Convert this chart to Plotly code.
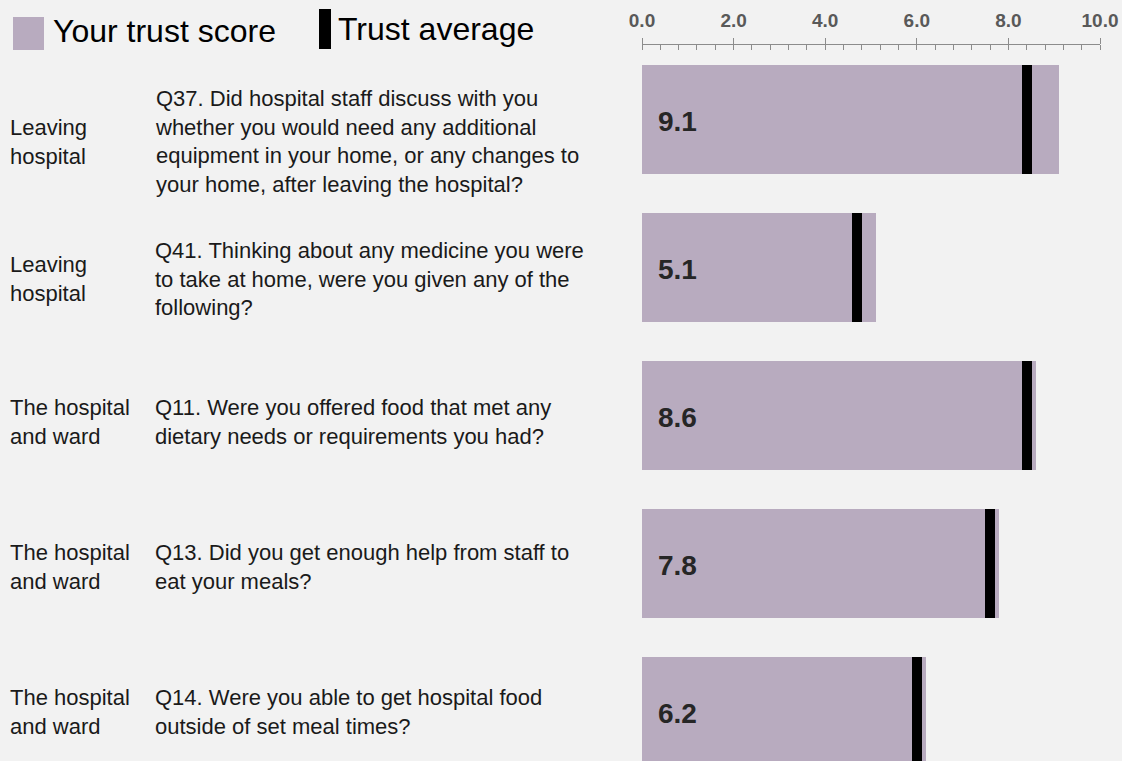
import plotly.graph_objects as go

# ---------------- data ----------------
categories = [
    "Leaving<br>hospital",
    "Leaving<br>hospital",
    "The hospital<br>and ward",
    "The hospital<br>and ward",
    "The hospital<br>and ward",
]
questions = [
    "Q37. Did hospital staff discuss with you<br>whether you would need any additional<br>"
    "equipment in your home, or any changes to<br>your home, after leaving the hospital?",
    "Q41. Thinking about any medicine you were<br>to take at home, were you given any of the<br>following?",
    "Q11. Were you offered food that met any<br>dietary needs or requirements you had?",
    "Q13. Did you get enough help from staff to<br>eat your meals?",
    "Q14. Were you able to get hospital food<br>outside of set meal times?",
]
scores = [9.1, 5.1, 8.6, 7.8, 6.2]
averages = [8.4, 4.7, 8.4, 7.6, 6.0]
tick_values = [0, 2, 4, 6, 8, 10]
tick_labels = ["0.0", "2.0", "4.0", "6.0", "8.0", "10.0"]
legend_labels = ["Your trust score", "Trust average"]

# ---------------- style ----------------
W, H = 1122, 761
BG = "#f2f2f2"
BAR = "#b8abbf"
AXIS = "#8c8c8c"
TXT = "#1a1a1a"
FONT = "Liberation Sans, Arial, sans-serif"
ROW_PX = 148.0
BAR_W = 0.736
MARK_W = 0.22
text_offsets_px = [22, 11, 6, 3, 0]

rows = list(range(len(scores)))

fig = go.Figure()
fig.add_trace(go.Bar(
    y=rows, x=scores, orientation="h", width=BAR_W,
    marker=dict(color=BAR, line=dict(width=0)), showlegend=False, hoverinfo="skip",
))
fig.add_trace(go.Bar(
    y=rows, x=[MARK_W] * len(averages), base=[a - MARK_W / 2 for a in averages],
    orientation="h", width=BAR_W,
    marker=dict(color="black", line=dict(width=0)), showlegend=False, hoverinfo="skip",
))

annotations = []
for i, s in enumerate(scores):
    annotations.append(dict(
        x=0, y=i, xref="x", yref="y", text=f"{s:.1f}", showarrow=False,
        xanchor="left", yanchor="middle", xshift=14, yshift=-2,
        font=dict(family=FONT, size=28, color="#262626", weight="bold"),
    ))
for i, (c, q) in enumerate(zip(categories, questions)):
    yy = i + text_offsets_px[i] / ROW_PX
    annotations.append(dict(
        x=8 / W, y=yy, xref="paper", yref="y", text=c, showarrow=False,
        xanchor="left", yanchor="middle", align="left",
        font=dict(family=FONT, size=22, color=TXT),
    ))
    annotations.append(dict(
        x=153 / W, y=yy, xref="paper", yref="y", text=q, showarrow=False,
        xanchor="left", yanchor="middle", align="left",
        font=dict(family=FONT, size=22, color=TXT),
    ))

# legend (drawn manually)
annotations.append(dict(
    x=51 / W, y=1 - 31 / H, xref="paper", yref="paper", text=legend_labels[0],
    showarrow=False, xanchor="left", yanchor="middle",
    font=dict(family=FONT, size=32, color="#000000"),
))
annotations.append(dict(
    x=336 / W, y=1 - 29 / H, xref="paper", yref="paper", text=legend_labels[1],
    showarrow=False, xanchor="left", yanchor="middle",
    font=dict(family=FONT, size=32, color="#000000"),
))
shapes = [
    dict(type="rect", xref="paper", yref="paper", x0=13 / W, x1=44 / W,
         y0=1 - 50 / H, y1=1 - 17 / H, fillcolor=BAR, line=dict(width=0)),
    dict(type="rect", xref="paper", yref="paper", x0=319 / W, x1=331 / W,
         y0=1 - 49 / H, y1=1 - 9 / H, fillcolor="black", line=dict(width=0)),
]

top_px = 45
y_top = (top_px - 119.5) / ROW_PX
y_bot = (H - 119.5) / ROW_PX

fig.update_layout(
    width=W, height=H,
    margin=dict(l=0, r=0, t=0, b=0),
    paper_bgcolor=BG, plot_bgcolor=BG,
    barmode="overlay", bargap=0,
    showlegend=False,
    annotations=annotations, shapes=shapes,
    xaxis=dict(
        domain=[642 / W, 1100 / W], range=[0, 10], side="top", anchor="y",
        showline=True, linecolor=AXIS, linewidth=1,
        ticks="outside", ticklen=6, tickcolor=AXIS, tickwidth=1,
        tickvals=tick_values, ticktext=tick_labels,
        tickfont=dict(family=FONT, size=19, color="#595959", weight="bold"),
        ticklabelstandoff=3,
        showgrid=False, zeroline=False, automargin=False,
        minor=dict(dtick=0.4, tick0=0, ticks="inside", ticklen=5, tickcolor=AXIS, tickwidth=1, showgrid=False),
        fixedrange=True,
    ),
    xaxis2=dict(
        domain=[642 / W, 1100 / W], range=[0, 10], side="top", anchor="y",
        overlaying="x", matches="x",
        ticks="inside", ticklen=5, tickcolor=AXIS, tickwidth=1,
        tickvals=tick_values, showticklabels=False,
        showline=False, showgrid=False, zeroline=False, automargin=False,
    ),
    yaxis=dict(
        domain=[0, 1 - top_px / H], range=[y_bot, y_top], visible=False,
        showgrid=False, zeroline=False, automargin=False, fixedrange=True,
    ),
)

fig.write_html(
    "out.html",
    config={"displayModeBar": False, "staticPlot": True},
    post_script="document.body.style.margin='0px';document.body.style.background='#f2f2f2';",
)
